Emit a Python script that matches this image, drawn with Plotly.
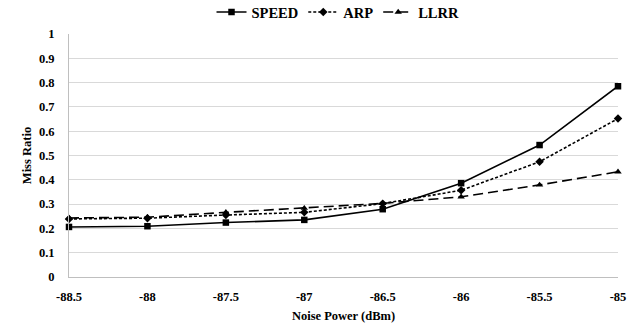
import plotly.graph_objects as go

noise_power = [-88.5, -88, -87.5, -87, -86.5, -86, -85.5, -85]
tick_labels = ["-88.5", "-88", "-87.5", "-87", "-86.5", "-86", "-85.5", "-85"]
speed = [0.206, 0.209, 0.224, 0.235, 0.279, 0.386, 0.543, 0.785]
arp = [0.239, 0.242, 0.255, 0.266, 0.302, 0.357, 0.474, 0.652]
llrr = [0.243, 0.246, 0.266, 0.283, 0.303, 0.330, 0.379, 0.433]
y_ticks = [0, 0.1, 0.2, 0.3, 0.4, 0.5, 0.6, 0.7, 0.8, 0.9, 1]
y_labels = ["0", "0.1", "0.2", "0.3", "0.4", "0.5", "0.6", "0.7", "0.8", "0.9", "1"]

FAM = "Liberation Serif"
font = dict(family=FAM, size=12.5, color="black", weight="bold")

fig = go.Figure()
fig.add_trace(go.Scatter(x=noise_power, y=speed, name="SPEED", mode="lines+markers",
                         line=dict(color="black", width=1.6, dash="solid"),
                         marker=dict(symbol="square", size=6.5, color="black"), cliponaxis=False))
fig.add_trace(go.Scatter(x=noise_power, y=arp, name="ARP", mode="lines+markers",
                         line=dict(color="black", width=1.6, dash="3px,2px"),
                         marker=dict(symbol="diamond", size=6.5, color="black"), cliponaxis=False))
fig.add_trace(go.Scatter(x=noise_power, y=llrr, name="LLRR", mode="lines+markers",
                         line=dict(color="black", width=1.6, dash="10px,5px"),
                         marker=dict(symbol="triangle-up", size=6.5, color="black"), cliponaxis=False))

fig.update_layout(
    width=644, height=329,
    margin=dict(l=69, r=26, t=34, b=52, autoexpand=False),
    paper_bgcolor="white", plot_bgcolor="white",
    font=font,
    legend=dict(orientation="h", x=0.49, xanchor="center", y=1.09, yanchor="middle",
                font=dict(family=FAM, size=14.5, color="black", weight="bold"),
                itemwidth=30, tracegroupgap=0),
    showlegend=True,
)
fig.update_xaxes(
    range=[-88.5, -85], tickvals=noise_power, ticktext=tick_labels,
    tickfont=dict(family=FAM, size=12.5, color="black", weight="bold"),
    showgrid=False, zeroline=False, showline=True, linecolor="#bfbfbf", linewidth=1,
    ticks="outside", ticklen=8, tickcolor="rgba(0,0,0,0)",
    title=dict(text="Noise Power (dBm)", standoff=8, font=font),
)
fig.update_yaxes(
    range=[0, 1], tickvals=y_ticks, ticktext=y_labels,
    tickfont=dict(family=FAM, size=12.5, color="black", weight="bold"),
    showgrid=True, gridcolor="#d9d9d9", gridwidth=1, zeroline=False,
    showline=True, linecolor="#bfbfbf", linewidth=1,
    ticks="outside", ticklen=11, tickcolor="rgba(0,0,0,0)",
    title=dict(text="Miss Ratio", standoff=4, font=font),
)
fig.write_html("out.html")
